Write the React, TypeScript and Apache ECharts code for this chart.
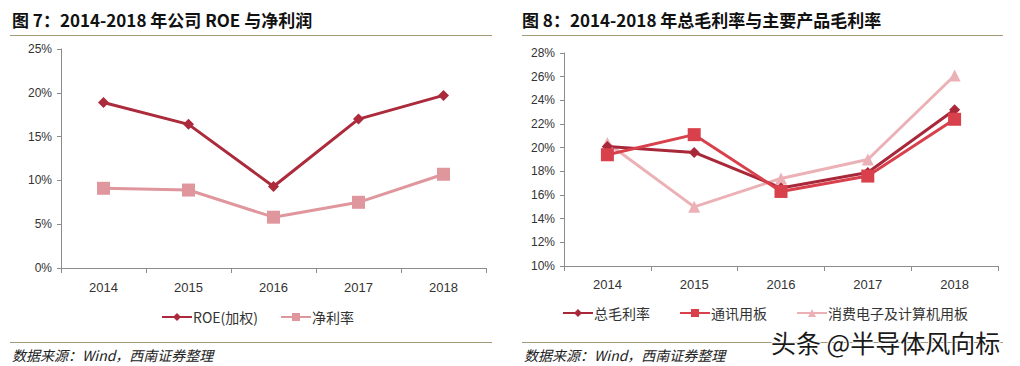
import React, { useEffect, useRef } from "react";
import * as echarts from "echarts";

const years = ["2014", "2015", "2016", "2017", "2018"];
const roe = [18.9, 16.4, 9.3, 17.0, 19.7];
const netMargin = [9.1, 8.9, 5.8, 7.5, 10.7];
const grossMargin = [20.1, 19.6, 16.6, 17.9, 23.2];
const telecomBoard = [19.4, 21.1, 16.3, 17.6, 22.4];
const consumerBoard = [20.4, 15.0, 17.4, 19.0, 26.1];

const leftTitle = "图 7：2014-2018 年公司 ROE 与净利润";
const rightTitle = "图 8：2014-2018 年总毛利率与主要产品毛利率";
const sourceText = "数据来源：Wind，西南证券整理";
const watermark = "头条 @半导体风向标";

const FONT = "'Liberation Sans', 'Noto Sans CJK SC', sans-serif";
const CJK = "'Noto Sans CJK SC', 'Liberation Sans', sans-serif";

const axisColor = "#8c8c8c";
const labelColor = "#333333";

function xAxisCfg(gridIndex: number, margin: number) {
  return {
    type: "category",
    gridIndex,
    data: years,
    boundaryGap: true,
    axisLine: { lineStyle: { color: axisColor, width: 1 } },
    axisTick: { show: true, length: 5, lineStyle: { color: axisColor } },
    axisLabel: { color: labelColor, fontSize: 13, fontFamily: FONT, margin },
  };
}

function yAxisCfg(gridIndex: number, min: number, max: number, interval: number) {
  return {
    type: "value",
    gridIndex,
    min,
    max,
    interval,
    splitLine: { show: false },
    axisLine: { show: true, lineStyle: { color: axisColor, width: 1 } },
    axisTick: { show: true, length: 4, lineStyle: { color: axisColor } },
    axisLabel: {
      color: labelColor,
      fontSize: 12,
      fontFamily: FONT,
      margin: 9,
      formatter: (v: number) => `${v}%`,
    },
  };
}

function lineSeries(
  name: string,
  data: number[],
  idx: number,
  color: string,
  symbol: string,
  symbolSize: number,
  width: number
) {
  return {
    name,
    type: "line",
    xAxisIndex: idx,
    yAxisIndex: idx,
    data,
    symbol,
    symbolSize,
    lineStyle: { color, width },
    itemStyle: { color },
    z: 3,
  };
}

export default function App() {
  const ref = useRef<HTMLDivElement>(null);

  useEffect(() => {
    if (!ref.current) return;
    const chart = echarts.init(ref.current, null, { renderer: "svg" });
    const legendText = { color: "#333", fontSize: 14, fontFamily: CJK };
    chart.setOption({
      animation: false,
      backgroundColor: "#ffffff",
      grid: [
        { left: 61, top: 49, width: 425, height: 219 },
        { left: 564, top: 53, width: 434, height: 213 },
      ],
      xAxis: [xAxisCfg(0, 13), xAxisCfg(1, 12)],
      yAxis: [yAxisCfg(0, 0, 25, 5), yAxisCfg(1, 10, 28, 2)],
      legend: [
        {
          left: 156,
          top: 305,
          itemWidth: 30,
          itemHeight: 10,
          itemGap: 22,
          textStyle: { ...legendText, padding: [0, 0, 0, -4] },
          data: ["ROE(加权)", "净利率"],
        },
        {
          left: 557,
          top: 301,
          itemWidth: 30,
          itemHeight: 10,
          itemGap: 29,
          textStyle: { ...legendText, padding: [0, 0, 0, -4] },
          data: ["总毛利率", "通讯用板", "消费电子及计算机用板"],
        },
      ],
      series: [
        lineSeries("ROE(加权)", roe, 0, "#ab2b3c", "diamond", 11, 3),
        lineSeries("净利率", netMargin, 0, "#e0969d", "rect", 13, 3),
        lineSeries("消费电子及计算机用板", consumerBoard, 1, "#ebb1b6", "triangle", 12, 3),
        lineSeries("总毛利率", grossMargin, 1, "#a8283a", "diamond", 11, 3),
        lineSeries("通讯用板", telecomBoard, 1, "#d8404b", "rect", 13, 3),
      ],
      graphic: [
        {
          type: "text",
          left: 12,
          top: 11,
          style: { text: leftTitle, fontSize: 17, fontWeight: "bold", fontFamily: CJK, fill: "#111" },
        },
        {
          type: "text",
          left: 522,
          top: 11,
          style: { text: rightTitle, fontSize: 17, fontWeight: "bold", fontFamily: CJK, fill: "#111" },
        },
        { type: "line", shape: { x1: 10, y1: 35.5, x2: 492, y2: 35.5 }, style: { stroke: "#a39b78", lineWidth: 1 } },
        { type: "line", shape: { x1: 522, y1: 35.5, x2: 1003, y2: 35.5 }, style: { stroke: "#a39b78", lineWidth: 1 } },
        { type: "line", shape: { x1: 10, y1: 342.5, x2: 492, y2: 342.5 }, style: { stroke: "#a39b78", lineWidth: 1 } },
        { type: "line", shape: { x1: 522, y1: 342.5, x2: 1003, y2: 342.5 }, style: { stroke: "#a39b78", lineWidth: 1 } },
        {
          type: "text",
          left: 12,
          top: 348,
          style: { text: sourceText, fontSize: 14, fontStyle: "italic", fontFamily: CJK, fill: "#222" },
        },
        {
          type: "text",
          left: 524,
          top: 348,
          style: { text: sourceText, fontSize: 14, fontStyle: "italic", fontFamily: CJK, fill: "#222" },
        },
        {
          type: "text",
          left: 770,
          top: 328,
          z: 10,
          style: {
            text: watermark,
            fontSize: 25,
            fontFamily: CJK,
            fill: "#1a1a1a",
            stroke: "#ffffff",
            lineWidth: 2,
          },
        },
      ],
    });
    return () => chart.dispose();
  }, []);

  return (
    <div
      ref={ref}
      style={{ position: "fixed", left: 0, top: 0, width: 1020, height: 366 }}
    />
  );
}
